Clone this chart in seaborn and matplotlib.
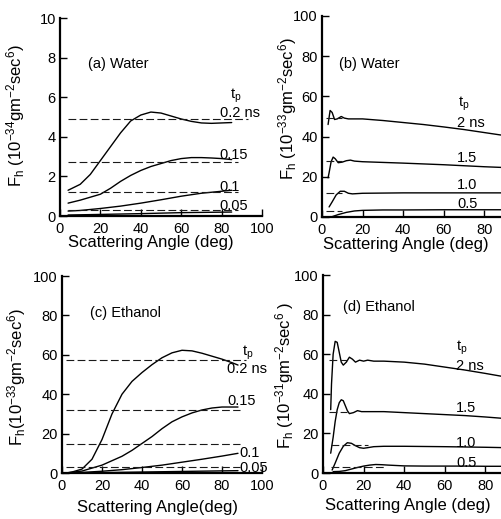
import pandas as pd
import seaborn as sns
import matplotlib
matplotlib.use("Agg")
import matplotlib.pyplot as plt

sns.set_theme(style="ticks", rc={"axes.edgecolor": "black", "text.color": "black",
                                 "axes.labelcolor": "black", "xtick.color": "black",
                                 "ytick.color": "black"})
plt.rcParams["font.family"] = ["Liberation Sans", "DejaVu Sans"]
plt.rcParams["mathtext.default"] = "regular"

angle_ticks = [0, 20, 40, 60, 80, 100]
# panels (b) and (d) are cut at the right edge, their "100" is not shown
cut_labels = ["0", "20", "40", "60", "80", ""]

# (a) water, short pulses, units 1e-34
a_x_02 = [4, 10, 15, 20, 25, 30, 35, 40, 45, 50, 55, 60, 65, 70, 75, 80, 85]
a_y_02 = [1.3, 1.6, 2.1, 2.8, 3.5, 4.2, 4.8, 5.1, 5.25, 5.2, 5.05, 4.9, 4.78, 4.7, 4.68, 4.7, 4.72]
a_x_015 = [4, 10, 15, 20, 25, 30, 35, 40, 45, 50, 55, 60, 65, 70, 75, 80, 85]
a_y_015 = [0.65, 0.8, 0.95, 1.1, 1.4, 1.75, 2.05, 2.3, 2.5, 2.65, 2.8, 2.9, 2.95, 2.95, 2.93, 2.9, 2.85]
a_x_01 = [4, 10, 20, 30, 40, 50, 60, 70, 80, 85]
a_y_01 = [0.25, 0.28, 0.38, 0.5, 0.65, 0.82, 1.0, 1.15, 1.25, 1.3]
a_x_005 = [4, 20, 40, 60, 85]
a_y_005 = [0.05, 0.08, 0.12, 0.17, 0.2]
a_dash = [4.9, 2.75, 1.2, 0.3]
a_dash_from = [4, 4, 4, 4]
a_dash_to = [93, 88, 88, 88]

# (b) water, long pulses, units 1e-33
b_x_20 = [3, 4, 5, 6.2, 7.5, 9.5, 11, 13, 20, 30, 40, 50, 60, 70, 80, 90, 100]
b_y_20 = [46, 53, 52, 48.5, 48.8, 50, 49.2, 48.8, 48.8, 48, 47, 46, 44.8, 43.5, 42, 40.5, 39]
b_x_15 = [3, 3.5, 4.5, 5.5, 6.5, 8, 10, 12, 14, 16, 20, 40, 60, 80, 90, 100]
b_y_15 = [19.5, 22, 27.5, 29.8, 29, 27, 27.3, 28, 28.3, 27.8, 27.5, 26.8, 26, 25, 24.6, 24.2]
b_x_10 = [3.5, 5, 7, 9, 11, 13, 15, 20, 40, 60, 80, 100]
b_y_10 = [5, 7.5, 11, 12.8, 12.8, 11.8, 11.5, 11.8, 12, 12, 12, 12]
b_x_05 = [4.5, 8, 12, 16, 20, 30, 40, 60, 80, 100]
b_y_05 = [0, 1.2, 2.3, 3, 3.3, 3.5, 3.5, 3.6, 3.6, 3.6]
b_dash = [49, 28, 12, 3]
b_dash_from = [2, 2, 2, 2]
b_dash_to = [10, 10, 10, 10]

# (c) ethanol, short pulses, units 1e-33
c_x_02 = [2, 5, 10, 15, 20, 25, 30, 35, 40, 45, 50, 55, 60, 65, 70, 75, 80, 85, 88]
c_y_02 = [0, 0.5, 2, 7, 17, 30, 40, 46.5, 51, 55, 58.5, 61, 62.3, 62, 60.8, 59.3, 57.8, 56, 54.8]
c_x_015 = [2, 10, 20, 30, 35, 40, 45, 50, 55, 60, 65, 70, 75, 80, 85, 88]
c_y_015 = [0, 1, 4, 8.5, 11.5, 15, 18.5, 22.5, 26, 28.5, 30.5, 32, 33, 33.5, 33.5, 33.5]
c_x_01 = [2, 10, 20, 30, 40, 50, 60, 70, 80, 88]
c_y_01 = [0, 0.3, 0.9, 1.7, 2.8, 4, 5.5, 7, 8.6, 10]
c_x_005 = [2, 20, 40, 60, 88]
c_y_005 = [0, 0.2, 0.5, 0.8, 1.2]
c_dash = [57.5, 32, 14.5, 3.3]
c_dash_from = [2, 2, 2, 2]
c_dash_to = [92, 89, 89, 89]

# (d) ethanol, long pulses, units 1e-31
d_x_20 = [3.8, 4.2, 5, 6, 7, 8, 9, 10, 11.5, 13, 14.5, 16, 18, 20, 22, 25, 30, 40, 50, 60, 70, 80, 90]
d_y_20 = [32, 45, 60, 66.5, 66, 61, 56, 54.5, 56, 58.5, 57.5, 56, 57, 56.5, 57, 56.5, 56.5, 56, 55, 53.5, 52, 50.3, 48.5]
d_x_15 = [3.8, 5, 6, 7, 8, 9, 10, 11, 12, 13, 15, 17, 19, 22, 30, 40, 50, 60, 70, 80, 90]
d_y_15 = [10, 18, 26, 32, 35.5, 37, 36.5, 34, 31.5, 30, 30.5, 31.5, 31, 31, 31, 30.5, 30, 29.5, 29, 28.3, 27.5]
d_x_10 = [4.5, 6, 8, 10, 12, 14, 16, 18, 20, 22, 25, 30, 40, 60, 80, 90]
d_y_10 = [1.5, 5, 10, 13.5, 15.3, 15, 13.8, 12.8, 12.5, 12.8, 13.3, 13.5, 13.5, 13.3, 13, 12.8]
d_x_05 = [5, 8, 11, 14, 17, 20, 23, 26, 29, 32, 36, 40, 50, 60, 70, 80, 90]
d_y_05 = [0.7, 0.8, 1.2, 2, 2.8, 3.5, 4, 4.3, 4.2, 4, 3.8, 3.6, 3.5, 3.5, 3.5, 3.4, 3.4]
d_dash = [57, 31, 14, 3]
d_dash_from = [3, 3, 4, 4]
d_dash_to = [12, 12, 22, 30]


def draw(ax, curves, levels, lo, hi):
    df = pd.concat([pd.DataFrame({"angle": x, "F": y, "tp": k})
                    for k, (x, y) in enumerate(curves)])
    sns.lineplot(data=df, x="angle", y="F", units="tp", estimator=None, sort=False,
                 color="black", lw=1.0, legend=False, ax=ax)
    ax.hlines(levels, lo, hi, colors="0.1", lw=0.8, linestyles=[(0, (7, 3))])


def style(ax, ymax, yticks, xlabels=None):
    ax.set_xlim(0, 100)
    ax.set_ylim(0, ymax)
    ax.set_xticks(angle_ticks)
    if xlabels is not None:
        ax.set_xticklabels(xlabels)
    ax.set_yticks(yticks)
    sns.despine(ax=ax)
    ax.tick_params(direction="in", length=5, width=1, labelsize=10.5, pad=3)
    ax.tick_params(axis="x", pad=4.5)
    for s in ["left", "bottom"]:
        ax.spines[s].set_linewidth(1.6)


fig = plt.figure(figsize=(5.02, 5.19), dpi=100)
ax_a = fig.add_axes([0.1195, 0.5838, 0.4024, 0.3815])
ax_b = fig.add_axes([0.6414, 0.5819, 0.4044, 0.3873])
ax_c = fig.add_axes([0.1235, 0.0886, 0.3984, 0.3796])
ax_d = fig.add_axes([0.6434, 0.0886, 0.4044, 0.3815])

draw(ax_a, [(a_x_02, a_y_02), (a_x_015, a_y_015), (a_x_01, a_y_01), (a_x_005, a_y_005)],
     a_dash, a_dash_from, a_dash_to)
draw(ax_b, [(b_x_20, b_y_20), (b_x_15, b_y_15), (b_x_10, b_y_10), (b_x_05, b_y_05)],
     b_dash, b_dash_from, b_dash_to)
draw(ax_c, [(c_x_02, c_y_02), (c_x_015, c_y_015), (c_x_01, c_y_01), (c_x_005, c_y_005)],
     c_dash, c_dash_from, c_dash_to)
draw(ax_d, [(d_x_20, d_y_20), (d_x_15, d_y_15), (d_x_10, d_y_10), (d_x_05, d_y_05)],
     d_dash, d_dash_from, d_dash_to)

style(ax_a, 10, [0, 2, 4, 6, 8, 10])
style(ax_b, 100, [0, 20, 40, 60, 80, 100], cut_labels)
style(ax_c, 100, [0, 20, 40, 60, 80, 100])
style(ax_d, 100, [0, 20, 40, 60, 80, 100], cut_labels)

fs = 10.5
# in-plot labels
ax_a.text(14, 7.7, "(a) Water", fontsize=fs, va="center")
ax_a.text(84, 6.05, "t$_p$", fontsize=fs, va="center")
for s, yv in zip(["0.2 ns", "0.15", "0.1", "0.05"], [5.0, 2.86, 1.25, 0.3]):
    ax_a.text(79, yv, s, fontsize=fs, va="baseline")

ax_b.text(8.4, 76, "(b) Water", fontsize=fs, va="center")
ax_b.text(67, 56.5, "t$_p$", fontsize=fs, va="center")
for s, yv in zip(["2 ns", "1.5", "1.0", "0.5"], [45, 27.5, 13.8, 4.3]):
    ax_b.text(66.5, yv, s, fontsize=fs, va="baseline")

ax_c.text(14, 81, "(c) Ethanol", fontsize=fs, va="center")
ax_c.text(90, 61, "t$_p$", fontsize=fs, va="center")
for s, xv, yv in zip(["0.2 ns", "0.15", "0.1", "0.05"], [82.5, 82.5, 88.5, 88.5], [50.8, 34.5, 8.2, 0.5]):
    ax_c.text(xv, yv, s, fontsize=fs, va="baseline")

ax_d.text(9.9, 84, "(d) Ethanol", fontsize=fs, va="center")
ax_d.text(65.5, 63, "t$_p$", fontsize=fs, va="center")
for s, yv in zip(["2 ns", "1.5", "1.0", "0.5"], [52, 31, 13.3, 3.2]):
    ax_d.text(65.5, yv, s, fontsize=fs, va="baseline")

# axis labels
lab = 12
ax_a.set_ylabel("F$_h$ (10$^{-34}$gm$^{-2}$sec$^6$)", fontsize=lab)
ax_b.set_ylabel("F$_h$ (10$^{-33}$gm$^{-2}$sec$^6$)", fontsize=lab)
ax_c.set_ylabel("F$_h$(10$^{-33}$gm$^{-2}$sec$^6$)", fontsize=lab)
ax_d.set_ylabel("F$_h$ (10$^{-31}$gm$^{-2}$sec$^6$ )", fontsize=lab)
ax_a.yaxis.set_label_coords(-0.163, 0.505)
ax_b.yaxis.set_label_coords(-0.113, 0.54)
ax_c.yaxis.set_label_coords(-0.17, 0.49)
ax_d.yaxis.set_label_coords(-0.133, 0.495)

ax_a.set_xlabel("Scattering Angle (deg)", fontsize=lab, va="center")
ax_b.set_xlabel("Scattering Angle (deg)", fontsize=lab, va="center")
ax_c.set_xlabel("Scattering Angle(deg)", fontsize=lab, va="center")
ax_d.set_xlabel("Scattering Angle (deg)", fontsize=lab, va="center")
ax_a.xaxis.set_label_coords(0.45, -0.133)
ax_b.xaxis.set_label_coords(0.414, -0.135)
ax_c.xaxis.set_label_coords(0.48, -0.173)
ax_d.xaxis.set_label_coords(0.419, -0.162)

fig.savefig("out.png", dpi=100)
